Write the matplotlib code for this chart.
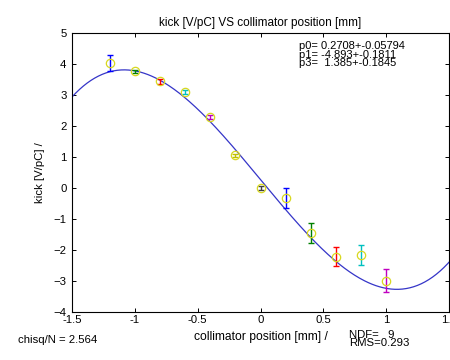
import numpy as np
import matplotlib
matplotlib.use("Agg")
import matplotlib.pyplot as plt

plt.rcParams['font.family'] = ['Liberation Sans', 'DejaVu Sans']

# data
x_pos = [-1.2, -1.0, -0.8, -0.6, -0.4, -0.2, 0.0, 0.2, 0.4, 0.6, 0.8, 1.0]
kick = [4.03, 3.76, 3.44, 3.09, 2.29, 1.06, 0.01, -0.32, -1.45, -2.21, -2.16, -2.99]
kick_err = [0.27, 0.05, 0.07, 0.07, 0.07, 0.05, 0.07, 0.32, 0.31, 0.31, 0.33, 0.38]
bar_colors = ['#0000ff', '#008000', '#ff0000', '#00c0c0', '#c000c0', '#c0c000',
              '#404040', '#0000ff', '#008000', '#ff0000', '#00c0c0', '#c000c0']
p0, p1, p3 = 0.2708, -4.893, 1.385
fit_text = ["p0= 0.2708+-0.05794", "p1= -4.893+-0.1811", "p3=  1.385+-0.1845"]

fig = plt.figure(figsize=(4.5, 3.6), dpi=100)
ax = fig.add_axes([72/450, 1-312/360, 377/450, 279/360])

xf = np.linspace(-1.5, 1.5, 300)
ax.plot(xf, p0 + p1*xf + p3*xf**3, color='#3535c8', lw=0.9)

for xi, yi, ei, c in zip(x_pos, kick, kick_err, bar_colors):
    ax.errorbar(xi, yi, yerr=ei, color=c, capsize=2, lw=1.0, capthick=1.0, fmt='none')
ax.plot(x_pos, kick, 'o', mfc='none', mec='#d8d820', ms=6, mew=0.9)

ax.set_xlim(-1.5, 1.5)
ax.set_ylim(-4, 5)
ax.set_xticks([-1.5, -1, -0.5, 0, 0.5, 1, 1.5])
ax.set_xticklabels(['-1.5', '-1', '-0.5', '0', '0.5', '1', '1.5'])
ax.set_yticks(range(-4, 6))
ax.tick_params(direction='in', top=True, right=True, labelsize=8.2, length=3, width=0.7, pad=2)
ax.tick_params(axis='y', pad=4)
for s in ax.spines.values():
    s.set_linewidth(0.8)

ax.set_title("kick [V/pC] VS collimator position [mm]", fontsize=8.5, pad=5)
ax.set_ylabel("kick [V/pC] /", fontsize=8.2, labelpad=6)

for i, t in enumerate(fit_text):
    fig.text(299/450, 1-(46+8.5*i)/360, t, fontsize=8, va='center', ha='left')

fig.text(18/450, 1-340/360, "chisq/N = 2.564", fontsize=8.2, va='center')
fig.text(261/450, 1-337/360, "collimator position [mm] /", fontsize=8.7, va='center', ha='center')
fig.text(349/450, 1-335/360, "NDF=   9", fontsize=8.2, va='center')
fig.text(349/450, 1-343/360, "RMS=0.293", fontsize=8.2, va='center')

fig.savefig("out.png", dpi=100)
